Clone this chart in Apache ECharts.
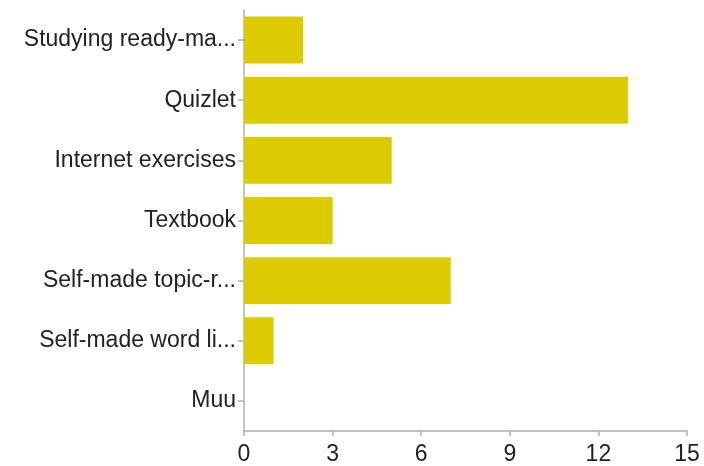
<!DOCTYPE html>
<html>
<head>
<meta charset="utf-8">
<script src="https://cdn.jsdelivr.net/npm/echarts@6/dist/echarts.min.js"></script>
<style>html,body{margin:0;padding:0;background:#fff;}#c{width:704px;height:466px;}</style>
</head>
<body>
<div id="c"></div>
<script>
const categories = ["Studying ready-ma...", "Quizlet", "Internet exercises", "Textbook", "Self-made topic-r...", "Self-made word li...", "Muu"];
const values = [2, 13, 5, 3, 7, 1, 0];
const xTicks = { min: 0, max: 15, interval: 3 };

const chart = echarts.init(document.getElementById('c'), null, { renderer: 'canvas' });
chart.setOption({
  animation: false,
  backgroundColor: '#ffffff',
  grid: { left: 244, right: 17, top: 10, bottom: 33, containLabel: false },
  xAxis: {
    type: 'value',
    min: xTicks.min, max: xTicks.max, interval: xTicks.interval,
    axisLine: { show: true, lineStyle: { color: '#b0b0b0', width: 1.5 } },
    axisTick: { show: true, length: 5, lineStyle: { color: '#b0b0b0', width: 1.5 } },
    axisLabel: { color: '#222', fontSize: 23, fontFamily: 'Liberation Sans, Arial, sans-serif', margin: 12 },
    splitLine: { show: false }
  },
  yAxis: {
    type: 'category',
    inverse: true,
    data: categories,
    axisLine: { show: true, lineStyle: { color: '#b0b0b0', width: 1.5 } },
    axisTick: { show: true, alignWithLabel: true, length: 6, lineStyle: { color: '#b0b0b0', width: 1.5 } },
    axisLabel: { color: '#222', fontSize: 23, fontFamily: 'Liberation Sans, Arial, sans-serif', margin: 8 }
  },
  series: [{
    type: 'bar',
    data: values,
    barCategoryGap: '22%',
    itemStyle: { color: '#DCCB00' }
  }]
});
</script>
</body>
</html>
